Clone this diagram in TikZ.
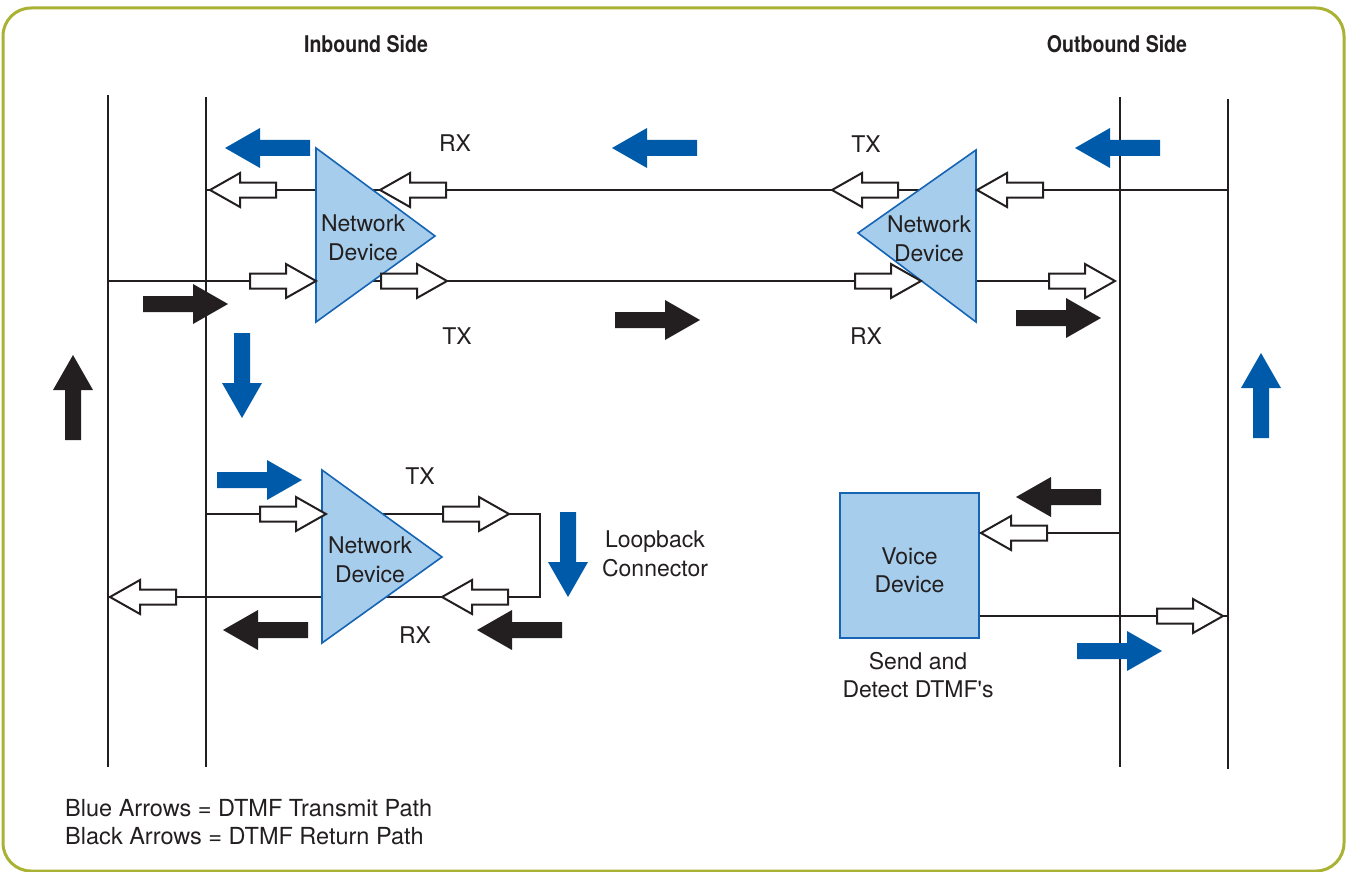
\documentclass[tikz,border=0pt]{standalone}
\usepackage{fontspec}
\setmainfont{TeX Gyre Heros}
\newfontfamily\headfont[FakeStretch=0.85]{TeX Gyre Heros}
\definecolor{frameolive}{RGB}{170,178,52}
\definecolor{dtmfblue}{RGB}{0,90,170}
\definecolor{devfill}{RGB}{166,205,235}
\definecolor{devedge}{RGB}{22,100,180}
\definecolor{ink}{RGB}{35,31,32}
\newcommand{\straightquote}{{\addfontfeatures{Ligatures=TeXOff}'}}
\tikzset{
  wire/.style={draw=ink, line width=1.5pt},
  device/.style={fill=devfill, draw=devedge, line width=1.6pt, line join=miter},
  lbl/.style={text=ink, inner sep=0pt, align=center, font=\fontsize{23}{28.5}\selectfont},
  head/.style={text=ink, inner sep=0pt, font=\headfont\bfseries\fontsize{23}{28}\selectfont},
  solid arrow/.pic={\fill (0,-8) -- (50,-8) -- (50,-20) -- (85,0) -- (50,20) -- (50,8) -- (0,8) -- cycle;},
  hollow arrow/.pic={\filldraw[fill=white, draw=ink, line width=2pt, line join=miter]
      (0,-7.5) -- (36,-7.5) -- (36,-17) -- (66,0) -- (36,17) -- (36,7.5) -- (0,7.5) -- cycle;},
  blue/.style={fill=dtmfblue},
  black/.style={fill=ink},
}
\begin{document}
\begin{tikzpicture}[x=1pt, y=-1pt]
\useasboundingbox (0,0) rectangle (1347,872);
% outer frame
\draw[frameolive, line width=3pt, rounded corners=28pt] (3,8) rectangle (1344,871);

% bus lines
\coordinate (inA1) at (108,95);  \coordinate (inA2) at (108,767);
\coordinate (inB1) at (206,97);  \coordinate (inB2) at (206,767);
\coordinate (outA1) at (1120,97); \coordinate (outA2) at (1120,767);
\coordinate (outB1) at (1228,99); \coordinate (outB2) at (1228,769);
\draw[wire] (inA1) -- (inA2);
\draw[wire] (inB1) -- (inB2);
\draw[wire] (outA1) -- (outA2);
\draw[wire] (outB1) -- (outB2);

% device outlines
\coordinate (d1a) at (316,148); \coordinate (d1b) at (435,236); \coordinate (d1c) at (316,322);
\coordinate (d2a) at (976,150); \coordinate (d2b) at (858,233); \coordinate (d2c) at (976,322);
\coordinate (d3a) at (322,470); \coordinate (d3b) at (442,557); \coordinate (d3c) at (322,643);

% signal paths
\coordinate (rxL) at (206,190); \coordinate (rxR) at (1228,190);
\coordinate (txL) at (108,281); \coordinate (txR) at (1115,281);
\coordinate (lbA) at (206,514); \coordinate (lbB) at (540,514);
\coordinate (lbC) at (540,597); \coordinate (lbD) at (108,597);
\draw[wire] (rxL) -- (rxR);
\draw[wire] (txL) -- (txR);
\draw[wire] (lbA) -- (lbB) -- (lbC) -- (lbD);

\filldraw[device] (d1a) -- (d1b) -- (d1c) -- cycle;
\filldraw[device] (d2a) -- (d2b) -- (d2c) -- cycle;
\filldraw[device] (d3a) -- (d3b) -- (d3c) -- cycle;
\node[device, minimum width=139pt, minimum height=145pt, inner sep=0pt] (voice) at (909.5,565.5) {};
\draw[wire] (voice.east |- 0,533) coordinate (vIn) -- (outA1 |- vIn);
\draw[wire] (voice.east |- 0,616) coordinate (vOut) -- (outB1 |- vOut);

% hollow signal arrows
\pic[rotate=180] at (276,190) {hollow arrow};
\pic[rotate=180] at (446,190) {hollow arrow};
\pic[rotate=180] at (898,190) {hollow arrow};
\pic[rotate=180] at (1043,190) {hollow arrow};
\pic at (250,281) {hollow arrow};
\pic at (381,281) {hollow arrow};
\pic at (855,281) {hollow arrow};
\pic at (1049,281) {hollow arrow};
\pic at (260,514) {hollow arrow};
\pic at (443,514) {hollow arrow};
\pic[rotate=180] at (508,597) {hollow arrow};
\pic[rotate=180] at (176,597) {hollow arrow};
\pic[rotate=180] at (1047,533) {hollow arrow};
\pic at (1157,616) {hollow arrow};

% DTMF transmit path (blue)
\pic[blue, rotate=180] at (310,148) {solid arrow};
\pic[blue, rotate=180] at (697,148) {solid arrow};
\pic[blue, rotate=180] at (1160,148) {solid arrow};
\pic[blue, rotate=-90] at (242,333) {solid arrow};
\pic[blue] at (217,480) {solid arrow};
\pic[blue, rotate=-90] at (568,512) {solid arrow};
\pic[blue, rotate=90] at (1261,438) {solid arrow};
\pic[blue] at (1077,651) {solid arrow};

% DTMF return path (black)
\pic[black] at (143,304) {solid arrow};
\pic[black] at (615,320) {solid arrow};
\pic[black] at (1016,318) {solid arrow};
\pic[black, rotate=90] at (73,440) {solid arrow};
\pic[black, rotate=180] at (1101,497) {solid arrow};
\pic[black, rotate=180] at (308,630) {solid arrow};
\pic[black, rotate=180] at (562,630) {solid arrow};

% labels
\node[head] (inbound) at (366,44) {Inbound Side};
\node[head] (outbound) at (1117,44) {Outbound Side};
\node[lbl] (rx1) at (455,143) {RX};
\node[lbl] (tx1) at (866,144) {TX};
\node[lbl] (tx2) at (457,336) {TX};
\node[lbl] (rx2) at (866,336) {RX};
\node[lbl] (tx3) at (420,476) {TX};
\node[lbl] (rx3) at (415,635) {RX};
\node[lbl] (dev1) at (363,238) {Network\\Device};
\node[lbl] (dev2) at (929,239) {Network\\Device};
\node[lbl] (dev3) at (370,560) {Network\\Device};
\node[lbl] (voicetext) at ([yshift=-5pt]voice.center) {Voice\\Device};
\node[lbl] (loop) at (655,554) {Loopback\\Connector};
\node[lbl] (dtmf) at (918,675) {Send and\\Detect DTMF\straightquote s};
\node[lbl, align=left, anchor=west, font=\fontsize{23.5}{28.5}\selectfont] (legend) at (65,822) {Blue Arrows = DTMF Transmit Path\\Black Arrows = DTMF Return Path};
\end{tikzpicture}
\end{document}
